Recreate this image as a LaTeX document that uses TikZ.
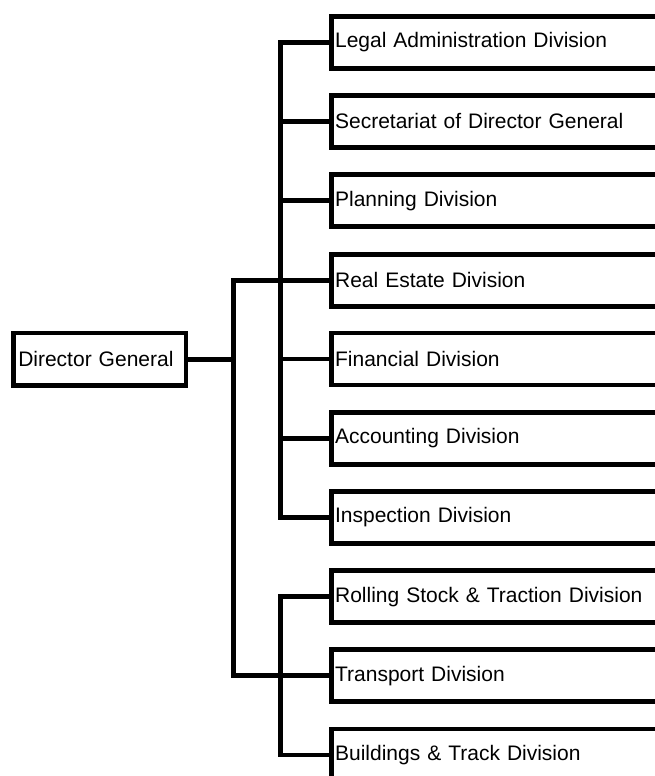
\documentclass[tikz,border=0pt]{standalone}
\usepackage{fontspec}
\setmainfont{Liberation Sans}
\begin{document}
\begin{tikzpicture}[x=1pt,y=-1pt,
  lw/.style={line width=4.8pt},
  divbox/.style={draw,lw,anchor=west,minimum height=52pt,text width=380pt,
    inner xsep=3.5pt,inner ysep=0pt,align=left,
    font=\fontsize{21}{25}\selectfont},
  dgbox/.style={draw,lw,minimum height=52.5pt,text width=163pt,
    inner xsep=4.8pt,inner ysep=0pt,align=left,
    font=\fontsize{21}{25}\selectfont},
  conn/.style={lw,line join=miter}]
\useasboundingbox (0,0) rectangle (655,776);
\clip (0,0) rectangle (655,776);
\fill[white] (0,0) rectangle (655,776);

\node[dgbox] (dg) at (99.75,359.3) {Director General};

\node[divbox] (b1) at (329.2,42.2) {Legal Administration Division};
\node[divbox] (b2) at (329.2,121.4) {Secretariat of Director General};
\node[divbox] (b3) at (329.2,200.6) {Planning Division};
\node[divbox] (b4) at (329.2,280.3) {Real Estate Division};
\node[divbox] (b5) at (329.2,359.0) {Financial Division};
\node[divbox] (b6) at (329.2,438.2) {Accounting Division};
\node[divbox] (b7) at (329.2,517.4) {Inspection Division};
\node[divbox] (b8) at (329.2,596.6) {Rolling Stock \& Traction Division};
\node[divbox] (b9) at (329.2,675.8) {Transport Division};
\node[divbox] (b10) at (329.2,755.0) {Buildings \& Track Division};

\coordinate (hub) at (233.2,359.3);
\coordinate (ibus) at (280.5,0);

\draw[conn] (dg.east) -- (hub);
\draw[conn] (b4.west) -| (hub) |- (b9.west);

\draw[conn] (b1.west) -| (ibus |- b7.west) -- (b7.west);
\foreach \i in {2,...,6}{
  \draw[conn] (ibus |- b\i.west) -- (b\i.west);
}
\draw[conn] (b8.west) -| (ibus |- b10.west) -- (b10.west);
\end{tikzpicture}
\end{document}
